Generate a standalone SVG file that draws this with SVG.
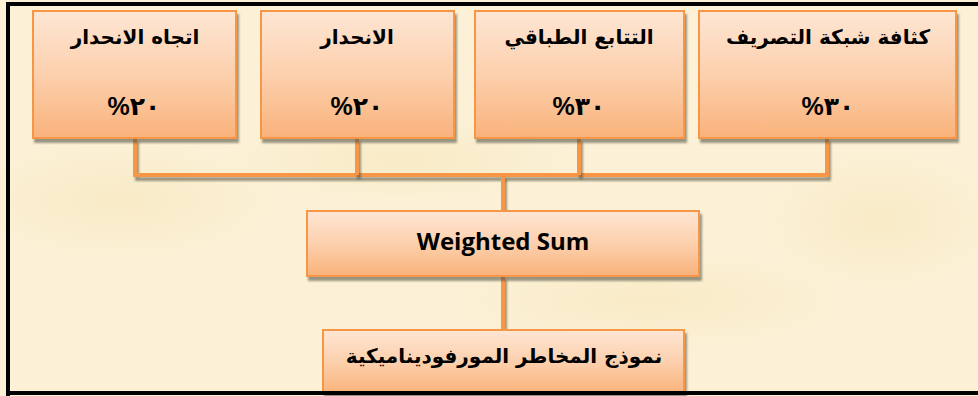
<svg xmlns="http://www.w3.org/2000/svg" width="978" height="396" viewBox="0 0 978 396">
<defs>
<linearGradient id="boxGrad" x1="0" y1="0" x2="0" y2="1">
<stop offset="0" stop-color="#fee6d4"/>
<stop offset="0.5" stop-color="#fcd0ad"/>
<stop offset="1" stop-color="#f9b27b"/>
</linearGradient>
<filter id="shadow" filterUnits="userSpaceOnUse" x="0" y="0" width="978" height="396">
<feDropShadow dx="2" dy="4" stdDeviation="1.2" flood-color="#4a4a3a" flood-opacity="0.55"/>
</filter>
<radialGradient id="tex1" cx="0.5" cy="0.5" r="0.5">
<stop offset="0" stop-color="#f6e6bc" stop-opacity="0.6"/>
<stop offset="1" stop-color="#f6e6bc" stop-opacity="0"/>
</radialGradient>
</defs>
<style>
.box{fill:url(#boxGrad);stroke:#f79646;stroke-width:2;filter:url(#shadow);}
.conn{fill:none;stroke:#f79646;stroke-width:4;filter:url(#shadow);}
.ar{font-family:"DejaVu Sans",sans-serif;font-weight:bold;fill:#000;text-anchor:middle;font-size:20px;}
.pct{font-family:"Liberation Sans","DejaVu Sans",sans-serif;font-weight:bold;fill:#000;text-anchor:middle;font-size:25px;}
.en{font-family:"Open Sans","Liberation Sans",sans-serif;font-weight:bold;fill:#000;text-anchor:middle;font-size:24px;}
.frame{fill:#000;}
</style>
<rect x="0" y="0" width="978" height="396" fill="#fcf1d6"/>
<ellipse cx="120" cy="200" rx="160" ry="60" fill="url(#tex1)"/>
<ellipse cx="650" cy="300" rx="200" ry="50" fill="url(#tex1)"/>
<ellipse cx="400" cy="160" rx="180" ry="40" fill="url(#tex1)"/>
<ellipse cx="880" cy="220" rx="120" ry="70" fill="url(#tex1)"/>

<g id="connectors">
<polyline class="conn" points="135,138 135,175 827,175 827,138"/>
<line class="conn" x1="357" y1="138" x2="357" y2="175"/>
<line class="conn" x1="579" y1="138" x2="579" y2="175"/>
<line class="conn" x1="503" y1="175" x2="503" y2="211"/>
<line class="conn" x1="503" y1="276" x2="503" y2="330"/>
</g>

<g id="node-slope-direction">
<rect class="box" x="33" y="11" width="203" height="127"/>
<text class="ar" x="135" y="44" direction="rtl">اتجاه الانحدار</text>
<text class="pct" x="134" y="115">%٢٠</text>
</g>
<g id="node-slope">
<rect class="box" x="261" y="11" width="193" height="127"/>
<text class="ar" x="357" y="44" direction="rtl">الانحدار</text>
<text class="pct" x="357" y="115">%٢٠</text>
</g>
<g id="node-stratigraphy">
<rect class="box" x="475" y="11" width="209" height="127"/>
<text class="ar" x="579" y="44" direction="rtl">التتابع الطباقي</text>
<text class="pct" x="579" y="115">%٣٠</text>
</g>
<g id="node-drainage-density">
<rect class="box" x="699" y="11" width="257" height="127"/>
<text class="ar" x="828" y="44" direction="rtl">كثافة شبكة التصريف</text>
<text class="pct" x="828" y="115">%٣٠</text>
</g>
<g id="node-weighted-sum">
<rect class="box" x="307" y="211" width="392" height="65"/>
<text class="en" x="503" y="250">Weighted Sum</text>
</g>
<g id="node-model">
<rect class="box" x="323" y="330" width="361" height="63"/>
<text class="ar" x="504" y="363" direction="rtl">نموذج المخاطر المورفوديناميكية</text>
</g>

<g id="frame">
<rect class="frame" x="6" y="2" width="972" height="4"/>
<rect class="frame" x="6" y="2" width="4" height="394"/>
<rect class="frame" x="6" y="391" width="972" height="4"/>
</g>
</svg>
